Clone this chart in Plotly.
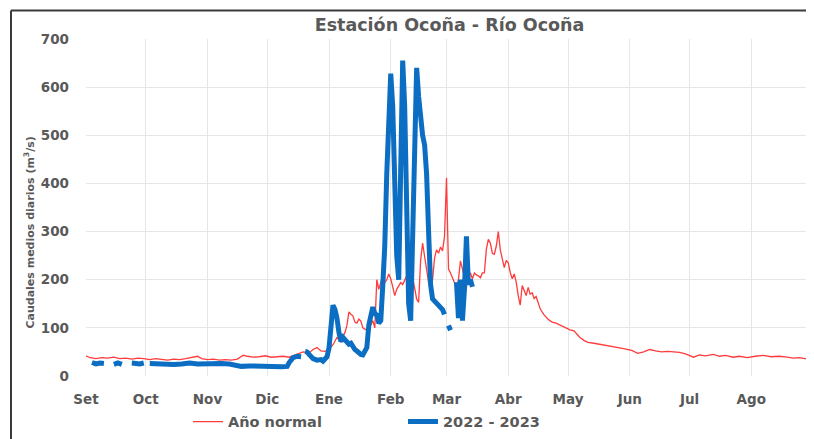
import pandas as pd
import plotly.graph_objects as go

# ---- data (days counted from 1 Sep 2022) ----
start = pd.Timestamp("2022-09-01")

red_day = [0, 2, 5, 8, 11, 14, 17, 20, 23, 26, 29, 32, 35, 38, 41, 44, 47, 50, 54, 56, 58,
           61, 64, 67, 70, 73, 76, 79, 81, 84, 87, 90, 93, 96, 99, 102, 104, 106, 109, 112,
           114, 116, 118, 120, 122, 124, 125, 126, 127, 128, 129, 130, 131, 132, 133, 134,
           135, 136, 137, 138, 139, 140, 141, 142, 143, 144, 145, 146, 147, 148, 149, 150,
           151, 152, 153, 154, 155, 156, 157, 158, 159, 160, 161, 162, 163, 164, 165, 166,
           167, 168, 169, 170, 171, 172, 173, 174, 175, 176, 177, 178, 179, 180, 181, 182,
           183, 184, 185, 186, 187, 188, 189, 190, 191, 192, 193, 194, 195, 196, 197, 198,
           199, 200, 201, 202, 203, 204, 205, 206, 207, 208, 209, 210, 211, 212, 213, 214,
           215, 216, 217, 218, 219, 220, 221, 222, 223, 224, 225, 226, 227, 228, 229, 230,
           232, 234, 236, 238, 240, 243, 245, 248, 250, 252, 255, 258, 262, 266, 270, 274,
           277, 280, 283, 286, 289, 292, 295, 298, 301, 305, 308, 311, 315, 318, 321, 325,
           328, 332, 336, 340, 344, 348, 352, 355, 358, 361, 364]
red_q = [42, 38, 36, 38, 37, 39, 36, 37, 35, 37, 36, 34, 36, 34, 33, 35, 34, 36, 40, 41, 36,
         34, 35, 33, 34, 33, 35, 43, 41, 39, 40, 42, 39, 40, 41, 39, 42, 46, 50, 48,
         55, 59, 52, 51, 55, 65, 72, 80, 76, 70, 82, 90, 105, 133, 128, 125,
         112, 110, 118, 114, 100, 98, 95, 104, 106, 115, 100, 200, 180, 195, 208, 194,
         200, 212, 202, 185, 167, 180, 188, 194, 190, 198, 208, 200, 185, 205, 180, 160,
         153, 240, 276, 250, 215, 194, 188, 200, 245, 262, 255, 268, 260, 290, 412, 222,
         214, 205, 194, 184, 200, 239, 222, 200, 184, 205, 214, 202, 214, 210, 208, 204,
         214, 214, 263, 284, 276, 255, 253, 270, 300, 262, 243, 225, 240, 235, 215, 202,
         212, 195, 167, 147, 188, 175, 167, 184, 170, 173, 161, 165, 151, 140, 133, 127,
         118, 112, 110, 106, 102, 96, 94, 80, 74, 70, 68, 66, 63, 61, 57, 53,
         47, 50, 55, 52, 50, 51, 50, 49, 46, 39, 44, 42, 45, 41, 43, 39,
         41, 38, 41, 43, 40, 41, 39, 37, 38, 36, 37]

blue_day = [3, 5, 7, 9, 11, 14, 16, 18, 20, 23, 25, 27, 29, 31, 32, 36, 40, 44, 48, 52, 56,
            60, 64, 68, 72, 75, 78, 82, 86, 90, 94, 98, 101, 102, 104, 106, 108, 109, 110,
            111, 112, 114, 116, 118, 119, 121, 122, 123, 124, 125, 126, 127, 128, 129, 130,
            131, 132, 133, 134, 135, 136, 137, 138, 139, 140, 141, 142, 143, 144, 145, 146,
            147, 148, 149, 150, 151, 152, 153, 154, 155, 156, 157, 158, 159, 160, 161, 162,
            163, 164, 165, 166, 167, 168, 169, 170, 171, 172, 173, 174, 175, 176, 177, 178,
            179, 180, 181, 182, 183, 184, 186, 187, 188, 189, 190, 191, 192, 193, 194]
blue_q = [28, 25, 27, 26, None, 24, 27, 24, None, 27, 26, 25, 27, None, 26, 25, 26, 24, 25, 27, 25,
          26, 27, 26, 25, 22, 20, 21, 20, 19, 20, 19, 20, 28, 38, 41, 40, None, 51,
          50, 45, 36, 33, 34, 31, 40, 58, 100, 147, 138, 120, 90, 72, 80, 76,
          70, 66, 68, 60, 55, 52, 48, 45, 44, 50, 59, 106, 130, 143, 130, 127,
          110, 115, 188, 270, 420, 560, 628, 560, 400, 250, 200, 450, 655, 560, 330, 150,
          115, 300, 520, 640, 580, 530, 500, 480, 420, 300, 190, 160, 155, 150, 145, 140,
          138, 128, None, 105, 95, None, 195, 120, 200, 115, 180, 290, 190, 200, 185]

month_labels = ["Set", "Oct", "Nov", "Dic", "Ene", "Feb", "Mar", "Abr", "May", "Jun", "Jul", "Ago"]
y_ticks = [0, 100, 200, 300, 400, 500, 600, 700]

red_x = start + pd.to_timedelta(red_day, unit="D")
blue_x = start + pd.to_timedelta(blue_day, unit="D")
month_starts = pd.date_range(start, periods=12, freq="MS")

GRAY = "#595959"
FONT = "DejaVu Sans, Liberation Sans, Arial, sans-serif"

# page has an 8px body margin: figure is sized/offset to compensate
W, H = 806, 431
PL, PT = 78, 31  # plot-area left/top inside the figure
PW, PH = 727, 343

fig = go.Figure()
fig.add_trace(go.Scatter(x=red_x, y=red_q, mode="lines", name="Año normal",
                         line=dict(color="#FF3B3B", width=1.3), connectgaps=False))
fig.add_trace(go.Scatter(x=blue_x, y=blue_q, mode="lines", name="2022 - 2023",
                         line=dict(color="#0B6EC2", width=5), connectgaps=False))

fig.update_layout(
    width=W, height=H,
    margin=dict(l=PL, r=W - PL - PW, t=PT, b=H - PT - PH),
    paper_bgcolor="white", plot_bgcolor="white",
    font=dict(family=FONT, color=GRAY, size=13),
    title=dict(text="Estación Ocoña - Río Ocoña", x=0.5, xref="paper", xanchor="center",
               y=1 - 17 / H, yref="container", yanchor="middle",
               font=dict(size=17.5, color=GRAY, family=FONT, weight="bold")),
    xaxis=dict(type="date", range=[start, start + pd.Timedelta(days=365)],
               tickvals=month_starts, ticktext=month_labels,
               showgrid=True, gridcolor="#E6E6E6", gridwidth=1,
               showline=False, zeroline=False, ticks="", ticklabelstandoff=13,
               tickfont=dict(size=13.5, color=GRAY, family=FONT, weight="bold")),
    yaxis=dict(range=[0, 700], tickvals=y_ticks,
               showgrid=True, gridcolor="#E6E6E6", gridwidth=1,
               showline=False, zeroline=False, ticks="", ticklabelstandoff=16,
               tickfont=dict(size=13.5, color=GRAY, family=FONT, weight="bold")),
    showlegend=True,
    legend=dict(orientation="h", x=(188 - 86) / PW, xanchor="left",
                y=-0.088, yanchor="top", entrywidth=170, entrywidthmode="pixels",
                font=dict(size=14.5, color=GRAY, family=FONT, weight="bold"),
                bgcolor="rgba(0,0,0,0)"),
)

fig.add_annotation(text="Caudales medios diarios (m<sup>3</sup>/s)", textangle=-90,
                   xref="paper", yref="paper", x=(30 - 86) / PW, y=(382 - 236) / PH,
                   xanchor="center", yanchor="middle", showarrow=False,
                   font=dict(size=11, color=GRAY, family=FONT, weight="bold"))

# outer chart frame (top and left edges visible in the reference)
bx = (11 - 86) / PW
by = (382 - 10) / PH
fig.add_shape(type="line", xref="paper", yref="paper", x0=bx, x1=1.0, y0=by, y1=by,
              line=dict(color="#3A3A3A", width=2))
fig.add_shape(type="line", xref="paper", yref="paper", x0=bx, x1=bx, y0=by, y1=-0.5,
              line=dict(color="#3A3A3A", width=2))

fig.write_html("out.html")
